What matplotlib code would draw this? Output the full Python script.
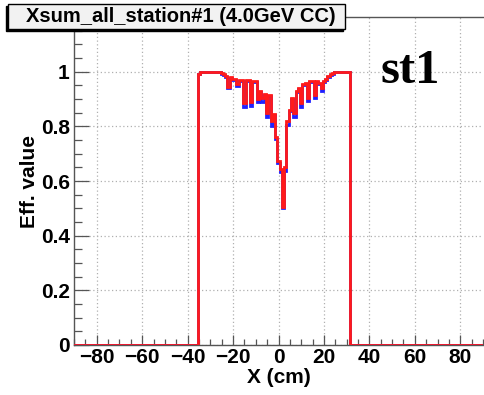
import matplotlib
matplotlib.use("Agg")
import matplotlib.pyplot as plt
import numpy as np
from matplotlib.patches import Rectangle

# ---- data ----
bin_lo = -35.5
bin_width = 1.0
eff_red = [
    0.99, 1.0, 1.0, 1.0, 1.0, 1.0, 1.0, 1.0, 1.0,           # -35 .. -27
    0.998, 0.995, 0.99, 0.985, 0.945, 0.98, 0.975, 0.975,    # -26 .. -19
    0.955, 0.97, 0.97, 0.885, 0.97, 0.97, 0.888, 0.965,      # -18 .. -11
    0.965, 0.90, 0.93, 0.905, 0.92, 0.85, 0.915, 0.82,       # -10 .. -3
    0.845, 0.76, 0.675, 0.645, 0.505, 0.65, 0.82, 0.86,      # -2 .. 5
    0.905, 0.85, 0.93, 0.94, 0.885, 0.955, 0.96, 0.905,      # 6 .. 13
    0.965, 0.965, 0.915, 0.965, 0.96, 0.94, 0.965, 0.975,    # 14 .. 21
    0.985, 0.99, 0.995, 1.0, 1.0, 1.0, 1.0, 1.0, 1.0, 1.0,   # 22 .. 31
]
eff_blue = [
    0.99, 1.0, 1.0, 1.0, 1.0, 1.0, 1.0, 1.0, 1.0,
    0.998, 0.992, 0.986, 0.98, 0.94, 0.976, 0.97, 0.97,
    0.948, 0.966, 0.966, 0.872, 0.966, 0.966, 0.876, 0.962,
    0.962, 0.89, 0.926, 0.89, 0.916, 0.835, 0.91, 0.803,
    0.84, 0.752, 0.665, 0.632, 0.50, 0.636, 0.805, 0.855,
    0.90, 0.835, 0.925, 0.935, 0.872, 0.95, 0.955, 0.892,
    0.962, 0.962, 0.905, 0.962, 0.956, 0.93, 0.962, 0.97,
    0.98, 0.987, 0.993, 1.0, 1.0, 1.0, 1.0, 1.0, 1.0, 1.0,
]
x_ticks = [-80, -60, -40, -20, 0, 20, 40, 60, 80]
y_ticks = [0, 0.2, 0.4, 0.6, 0.8, 1.0]
y_tick_labels = ["0", "0.2", "0.4", "0.6", "0.8", "1"]
title_text = "Xsum_all_station#1 (4.0GeV CC)"
x_label = "X (cm)"
y_label = "Eff. value"
tag_text = "st1"

# ---- figure ----
W, H = 484, 395
fig = plt.figure(figsize=(W / 100, H / 100), dpi=100)
ax = fig.add_axes([74 / W, 1 - 345 / H, (483 - 74) / W, (345 - 17) / H])

n = len(eff_red)
edges = bin_lo + bin_width * np.arange(n + 1)

def full_step(vals):
    xs = np.concatenate([[-90], np.repeat(edges, 2), [90]])
    ys = np.concatenate([[0, 0], np.repeat(vals, 2), [0, 0]])
    return xs, ys

xb, yb = full_step(eff_blue)
xr, yr = full_step(eff_red)
ax.plot(xb, yb, color="#2020ff", lw=2.0, solid_joinstyle="miter", zorder=3)
ax.plot(xr, yr, color="#ff1a1a", lw=2.0, solid_joinstyle="miter", zorder=4)

ax.set_xlim(-90, 90)
ax.set_ylim(0, 1.2)

ax.set_xticks(x_ticks)
ax.set_xticks(np.arange(-90, 91, 5), minor=True)
ax.set_yticks(y_ticks)
ax.set_yticklabels(y_tick_labels)
ax.set_yticks(np.arange(0, 1.2001, 0.05), minor=True)

ax.grid(True, which="major", color="#b0b0b0", linestyle=(0, (1, 2)), linewidth=0.9)
ax.set_axisbelow(True)

ax.tick_params(axis="x", which="major", direction="in", length=7, width=0.9,
               color="#555555", pad=2)
ax.tick_params(axis="x", which="minor", direction="in", length=4, width=0.9,
               color="#555555")
ax.tick_params(axis="y", which="major", direction="in", length=11, width=0.9,
               color="#555555", pad=3)
ax.tick_params(axis="y", which="minor", direction="in", length=6, width=0.9,
               color="#555555")

for lab in ax.get_xticklabels() + ax.get_yticklabels():
    lab.set_fontfamily("Liberation Sans")
    lab.set_fontweight("bold")
    lab.set_fontsize(15)

ax.spines["right"].set_visible(False)
for s in ["top", "left", "bottom"]:
    ax.spines[s].set_color("#555555")
    ax.spines[s].set_linewidth(1.0)

ax.set_xlabel(x_label, fontfamily="Liberation Sans", fontweight="bold",
              fontsize=15, labelpad=1)
ax.set_ylabel(y_label, fontfamily="Liberation Sans", fontweight="bold",
              fontsize=15, labelpad=1)

# title box with shadow
bx0, by0, bx1, by1 = 8, 4, 345, 29
shadow = Rectangle(((bx0 - 2) / W, 1 - (by1 + 2) / H), (bx1 - bx0) / W, (by1 - by0) / H,
                   transform=fig.transFigure, facecolor="black", edgecolor="black",
                   zorder=10)
fig.add_artist(shadow)
box = Rectangle((bx0 / W, 1 - by1 / H), (bx1 - bx0) / W, (by1 - by0) / H,
                transform=fig.transFigure, facecolor="#f2f2f2", edgecolor="black",
                linewidth=1.0, zorder=11)
fig.add_artist(box)
fig.text(181 / W, 1 - (by0 + by1) / 2 / H, title_text,
         ha="center", va="center", fontfamily="Liberation Sans",
         fontweight="bold", fontsize=14.5, zorder=12)

# st1 tag
fig.text(380 / W, 1 - 83 / H, tag_text, ha="left", va="baseline",
         fontfamily="Liberation Serif", fontweight="bold", fontsize=35, zorder=12)

fig.savefig("out.png", dpi=100)
